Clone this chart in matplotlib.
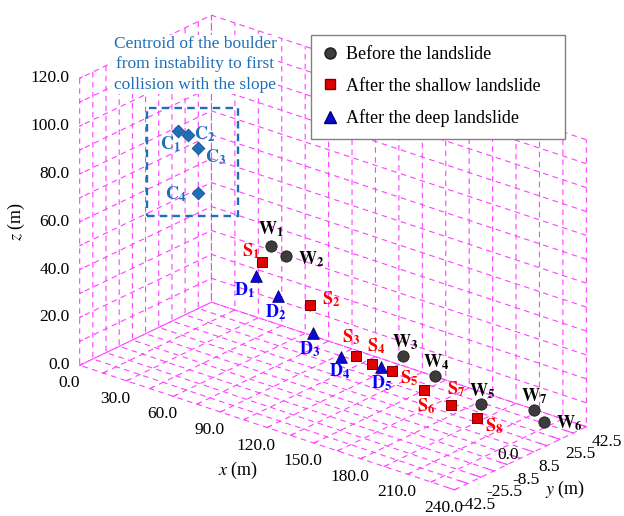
import numpy as np
import matplotlib
matplotlib.use("Agg")
import matplotlib.pyplot as plt
from matplotlib.lines import Line2D
from matplotlib.patches import Rectangle
from matplotlib.ticker import FixedLocator, NullFormatter
from mpl_toolkits.mplot3d import proj3d

plt.rcParams["font.family"] = ["Liberation Serif", "DejaVu Serif"]
plt.rcParams["mathtext.fontset"] = "stix"

# ---------------- boulder positions (m) ----------------
w_names = ["W_1", "W_2", "W_3", "W_4", "W_5", "W_6", "W_7"]
w_x = [80.0, 90.0, 165.0, 185.0, 214.5, 237.5, 231.0]
w_y = [0.0, 0.0, 0.0, 0.0, 0.0, 18.0, 18.0]
w_z = [54.0, 52.0, 26.5, 22.5, 17.0, 9.0, 12.5]

s_names = ["S_1", "S_2", "S_3", "S_4", "S_5", "S_6", "S_7", "S_8"]
s_x = [74.5, 105.5, 134.5, 145.0, 157.5, 178.5, 195.5, 212.5]
s_y = [0.0, 0.0, 0.0, 0.0, 0.0, 0.0, 0.0, 0.0]
s_z = [46.0, 35.0, 20.0, 19.0, 18.5, 15.0, 12.5, 11.0]

d_names = ["D_1", "D_2", "D_3", "D_4", "D_5"]
d_x = [70.5, 84.5, 107.5, 125.0, 151.0]
d_y = [0.0, 0.0, 0.0, 0.0, 0.0]
d_z = [39.5, 34.0, 23.5, 17.5, 19.0]

c_names = ["C_1", "C_2", "C_3", "C_4"]
c_x = [21.0, 27.0, 33.5, 33.5]
c_y = [0.0, 0.0, 0.0, 0.0]
c_z = [89.5, 89.0, 85.0, 66.0]

# grid positions; only every second one carries a number
x_ticks = np.arange(0, 240.1, 15)
y_ticks = np.arange(-42.5, 42.51, 8.5)
z_ticks = np.arange(0, 120.1, 10)

def every_other(ticks):
    return [f"{v:.1f}" if i % 2 == 0 else "" for i, v in enumerate(ticks)]

x_labels = every_other(x_ticks)
y_labels = every_other(y_ticks)
z_labels = every_other(z_ticks)

legend_labels = ["Before the landslide", "After the shallow landslide",
                 "After the deep landslide"]
note_text = "Centroid of the boulder\nfrom instability to first\ncollision with the slope"

# label offsets in pixels (dx, dy, horizontal alignment)
w_off = [(0, 17, "center"), (12, -3, "left"), (2, 14, "center"), (2, 14, "center"),
         (2, 13, "center"), (12, -1, "left"), (0, 14, "center")]
s_off = [(-2, 11, "right"), (12, 5, "left"), (-5, 18, "center"), (4, 17, "center"),
         (8, -7, "left"), (2, -16, "center"), (5, 16, "center"), (8, -9, "left")]
d_off = [(-11, -14, "center"), (-2, -16, "center"), (-4, -16, "center"),
         (-1, -15, "center"), (0, -17, "center")]
c_off = [(-8, -14, "center"), (6, 1, "left"), (7, -9, "left"), (-12, -1, "right")]

GRID = "#ff40ff"
W_COL, S_COL, D_COL, C_COL = "#3c3c3c", "#e00000", "#0a0ad2", "#1f6fb8"
S_TXT, D_TXT = "#ff0000", "#0000ff"
FS = 13
TICK_FS = 12.5

W_PX, H_PX = 624, 516
fig = plt.figure(figsize=(W_PX / 100, H_PX / 100), dpi=100)
ax = fig.add_subplot(projection="3d", proj_type="ortho")
ax.set_position([0, 0, 1, 1])
ax.view_init(elev=23.5, azim=-50.2)
ax.set_box_aspect((2.37, 1.0, 1.52))
ax.set_xlim(0, 240)
ax.set_ylim(-42.5, 42.5)
ax.set_zlim(0, 120)
ax.zaxis.set_ticks_position("lower")

for axis, ticks in ((ax.xaxis, x_ticks), (ax.yaxis, y_ticks), (ax.zaxis, z_ticks)):
    axis.set_major_locator(FixedLocator(ticks))
    axis.set_major_formatter(NullFormatter())
    axis.set_pane_color((1, 1, 1, 0))
    axis.pane.set_edgecolor((1, 1, 1, 0))
    axis.line.set_color((1, 1, 1, 0))
    axis._axinfo["grid"].update(color=GRID, linestyle=(0, (5, 4)), linewidth=0.8)
    axis._axinfo["tick"]["inward_factor"] = 0.0
    axis._axinfo["tick"]["outward_factor"] = 0.25
ax.tick_params(axis="both", colors=GRID, width=0.8)
ax.grid(True)

ax.scatter(c_x, c_y, c_z, marker="D", s=42, c=C_COL, edgecolors="#15508a",
           linewidths=0.6, depthshade=False)
ax.scatter(d_x, d_y, d_z, marker="^", s=70, c=D_COL, edgecolors="#000070",
           linewidths=0.6, depthshade=False)
ax.scatter(s_x, s_y, s_z, marker="s", s=62, c=S_COL, edgecolors="#7a0000",
           linewidths=0.7, depthshade=False)
ax.scatter(w_x, w_y, w_z, marker="o", s=66, c=W_COL, edgecolors="#1e1e1e",
           linewidths=0.6, depthshade=False)

# place the 3D box so that its corners fall on the intended pixel spots
fig.canvas.draw()

def to_disp(x, y, z):
    X, Y, _ = proj3d.proj_transform(np.atleast_1d(x), np.atleast_1d(y),
                                    np.atleast_1d(z), ax.get_proj())
    return ax.transData.transform(np.column_stack([X, Y]))

a0 = to_disp(0, -42.5, 0)[0]
b0 = to_disp(240, 42.5, 120)[0]
a1 = np.array([80.0, H_PX - 366.0])
b1 = np.array([586.0, H_PX - 139.0])
scale = np.linalg.norm(b1 - a1) / np.linalg.norm(b0 - a0)
m0 = (a0 + b0) / 2
m1 = (a1 + b1) / 2
pos = ax.get_position(original=True)
x0 = (pos.x0 * W_PX - m0[0]) * scale + m1[0]
y0 = (pos.y0 * H_PX - m0[1]) * scale + m1[1]
ax.set_position([x0 / W_PX, y0 / H_PX, pos.width * scale, pos.height * scale])
fig.canvas.draw()

def put_text(px, py, s, dx, dy, ha, **kw):
    fig.text((px + dx) / W_PX, (py + dy) / H_PX, s, ha=ha, va="center", **kw)

# tick numbers along the three labelled edges
n = len(x_ticks)
for (px, py), lab in zip(to_disp(x_ticks, np.full(n, -42.5), np.zeros(n)), x_labels):
    if lab:
        put_text(px, py, lab, -11, -18, "center", fontsize=TICK_FS)
n = len(y_ticks)
for (px, py), lab in zip(to_disp(np.full(n, 240.0), y_ticks, np.zeros(n)), y_labels):
    if lab:
        put_text(px, py, lab, 5, -15, "left", fontsize=TICK_FS)
n = len(z_ticks)
for (px, py), lab in zip(to_disp(np.zeros(n), np.full(n, -42.5), z_ticks), z_labels):
    if lab:
        put_text(px, py, lab, -10, 0, "right", fontsize=TICK_FS)

def add_labels(xs, ys, zs, names, offs, color):
    pts = to_disp(xs, ys, zs)
    for (px, py), name, (dx, dy, ha) in zip(pts, names, offs):
        letter, idx = name.split("_")
        txt = r"$\mathbf{%s}_{\mathbf{%s}}$" % (letter, idx)
        put_text(px, py, txt, dx, dy, ha, color=color, fontsize=FS)

add_labels(w_x, w_y, w_z, w_names, w_off, "black")
add_labels(s_x, s_y, s_z, s_names, s_off, S_TXT)
add_labels(d_x, d_y, d_z, d_names, d_off, D_TXT)
add_labels(c_x, c_y, c_z, c_names, c_off, C_COL)

# dashed frame around the centroid track
cp = to_disp(c_x, c_y, c_z)
fx0, fx1 = cp[:, 0].min() - 31, cp[:, 0].max() + 40
fy0, fy1 = cp[:, 1].min() - 23, cp[:, 1].max() + 23
fig.add_artist(Rectangle((fx0 / W_PX, fy0 / H_PX), (fx1 - fx0) / W_PX,
                         (fy1 - fy0) / H_PX, transform=fig.transFigure,
                         fill=False, edgecolor=C_COL, linewidth=1.7,
                         linestyle=(0, (3.2, 2.2))))
fig.text(195 / W_PX, 1 - 64.5 / H_PX, note_text, color=C_COL, fontsize=12.5,
         ha="center", va="center", linespacing=1.36,
         bbox=dict(facecolor="white", edgecolor="none", pad=1))

# axis titles and the extra origin value on the floor
fig.text(238 / W_PX, 1 - 470 / H_PX, r"$x$ (m)", fontsize=FS, ha="center", va="center")
fig.text(565 / W_PX, 1 - 489 / H_PX, r"$y$ (m)", fontsize=FS, ha="center", va="center")
fig.text(16 / W_PX, 1 - 222 / H_PX, r"$z$ (m)", fontsize=FS, ha="center", va="center",
         rotation=90)
fig.text(508 / W_PX, 1 - 455 / H_PX, "0.0", fontsize=TICK_FS, ha="center", va="center")

handles = [
    Line2D([], [], marker="o", ls="none", ms=8, mfc=W_COL, mec="#1e1e1e"),
    Line2D([], [], marker="s", ls="none", ms=7.5, mfc=S_COL, mec="#7a0000"),
    Line2D([], [], marker="^", ls="none", ms=8.5, mfc=D_COL, mec="#000070"),
]
fig.legend(handles, legend_labels, loc="upper left",
           bbox_to_anchor=(311 / W_PX, 1 - 137.5 / H_PX, 254 / W_PX, 103 / H_PX),
           mode="expand", frameon=True, fancybox=False, edgecolor="#808080",
           framealpha=1, fontsize=FS, handlelength=0.8, handletextpad=0.5,
           borderpad=0.65, labelspacing=0.8, borderaxespad=0)

fig.savefig("out.png", dpi=100)
